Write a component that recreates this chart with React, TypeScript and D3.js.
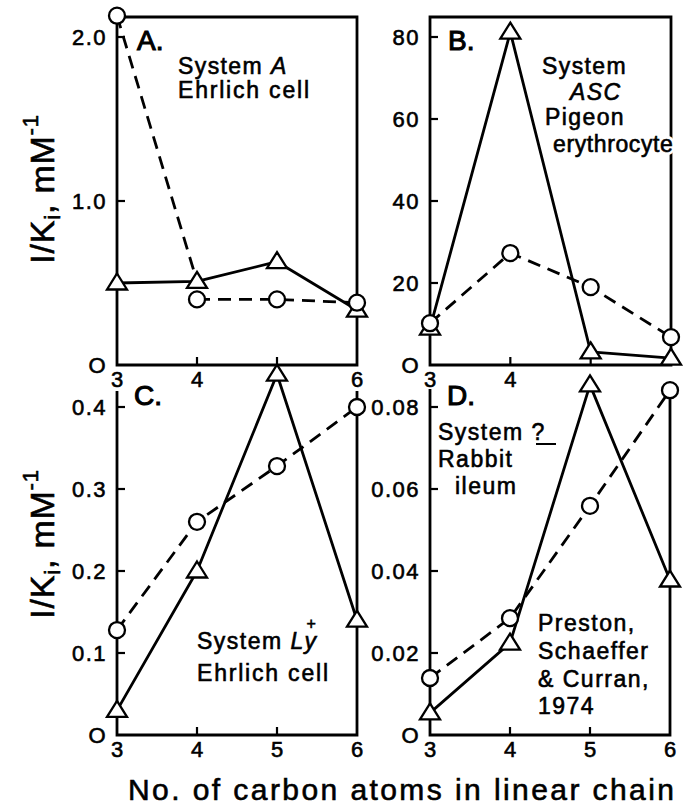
import React from "react";
import * as d3 from "d3";

// ---------- Data ----------
const carbons = [3, 4, 5, 6];

// Panel A: System A, Ehrlich cell
const aTriangles = [0.5, 0.51, 0.63, 0.335];
const aCircles = [2.13, 0.4, 0.4, 0.38];
const aTicks = [0, 1.0, 2.0];
const aTickLabels = ["O", "1.0", "2.0"];

// Panel B: System ASC, Pigeon erythrocyte
const bTriangles = [9.0, 81.2, 3.2, 1.7];
const bCircles = [10.2, 27.3, 19.0, 6.8];
const bTicks = [0, 20, 40, 60, 80];
const bTickLabels = ["O", "20", "40", "60", "80"];

// Panel C: System Ly+, Ehrlich cell
const cTriangles = [0.03, 0.2, 0.44, 0.14];
const cCircles = [0.128, 0.26, 0.328, 0.4];
const cTicks = [0, 0.1, 0.2, 0.3, 0.4];
const cTickLabels = ["O", "0.1", "0.2", "0.3", "0.4"];

// Panel D: System ?, Rabbit ileum
const dTriangles = [0.0054, 0.0224, 0.0854, 0.0378];
const dCircles = [0.0139, 0.0285, 0.0559, 0.0841];
const dTicks = [0, 0.02, 0.04, 0.06, 0.08];
const dTickLabels = ["O", "0.02", "0.04", "0.06", "0.08"];

// x tick labels visible in each panel (others are hidden by markers)
const aXLabels = [3, 4, 6];
const bXLabels = [3, 4];
const cXLabels = [3, 4, 5, 6];
const dXLabels = [3, 4, 5, 6];

const yAxisTitle = "I/K";
const xAxisTitle = "No. of carbon atoms in linear chain";

// ---------- Layout ----------
const W = 689;
const H = 807;
const FONT = "'Liberation Sans', Arial, Helvetica, sans-serif";
const SW = 2.8;
const TS = { stroke: "#000", strokeWidth: 0.6 } as const; // heavier text

type PanelCfg = {
  x0: number;
  x1: number;
  yTop: number;
  yBot: number;
  yMax: number;
  yMaxPix: number;
  tri: number[];
  circ: number[];
  ticks: number[];
  tickLabels: string[];
  xLabels: number[];
  box: boolean;
  breakA?: boolean;
};

const panels: PanelCfg[] = [
  { x0: 117, x1: 357, yTop: 17, yBot: 365, yMax: 2, yMaxPix: 37, tri: aTriangles, circ: aCircles, ticks: aTicks, tickLabels: aTickLabels, xLabels: aXLabels, box: true, breakA: true },
  { x0: 430, x1: 671, yTop: 17, yBot: 365, yMax: 80, yMaxPix: 37, tri: bTriangles, circ: bCircles, ticks: bTicks, tickLabels: bTickLabels, xLabels: bXLabels, box: true },
  { x0: 117, x1: 357, yTop: 391, yBot: 735, yMax: 0.4, yMaxPix: 407, tri: cTriangles, circ: cCircles, ticks: cTicks, tickLabels: cTickLabels, xLabels: cXLabels, box: false },
  { x0: 430, x1: 670, yTop: 389, yBot: 735, yMax: 0.08, yMaxPix: 407, tri: dTriangles, circ: dCircles, ticks: dTicks, tickLabels: dTickLabels, xLabels: dXLabels, box: false },
];

function Panel({ p }: { p: PanelCfg }) {
  const x = d3.scaleLinear().domain([3, 6]).range([p.x0, p.x1]);
  const y = d3.scaleLinear().domain([0, p.yMax]).range([p.yBot, p.yMaxPix]);
  const line = d3
    .line<[number, number]>()
    .x((d) => x(d[0]))
    .y((d) => y(d[1]));

  const triPts: [number, number][] = carbons.map((c, i) => [c, p.tri[i]]);
  const circPts: [number, number][] = carbons.map((c, i) => [c, p.circ[i]]);

  const dashedPaths: [number, number][][] = p.breakA
    ? [[circPts[0], triPts[1]], circPts.slice(1)]
    : [circPts];

  const frame = p.box
    ? `M${p.x0},${p.yTop}H${p.x1}V${p.yBot}H${p.x0}Z`
    : `M${p.x0},${p.yTop}V${p.yBot}H${p.x1}V${p.yTop}`;

  const triPath = (cx: number, cy: number) =>
    `M${cx},${cy - 9.5}L${cx + 10},${cy + 6.5}L${cx - 10},${cy + 6.5}Z`;

  return (
    <g>
      <path d={frame} fill="none" stroke="#000" strokeWidth={SW} strokeLinejoin="miter" />
      {p.ticks.map((t, i) => (
        <g key={"yt" + i}>
          {i > 0 && (
            <line x1={p.x0} x2={p.x0 + 8} y1={y(t)} y2={y(t)} stroke="#000" strokeWidth={2.2} />
          )}
          <text
            x={p.x0 - 10}
            y={y(t) + 8}
            textAnchor="end"
            fontSize={22}
            fontFamily={FONT}
            letterSpacing={1.5}
            {...TS}
          >
            {p.tickLabels[i]}
          </text>
        </g>
      ))}
      {carbons.slice(1, 3).map((c) => (
        <line key={"xt" + c} x1={x(c)} x2={x(c)} y1={p.yBot} y2={p.yBot - 8} stroke="#000" strokeWidth={2.2} />
      ))}
      {p.xLabels.map((c) => (
        <text key={"xl" + c} x={x(c)} y={p.yBot + 22} textAnchor="middle" fontSize={22} fontFamily={FONT} {...TS}>
          {c}
        </text>
      ))}
      <path d={line(triPts) || ""} fill="none" stroke="#000" strokeWidth={SW} strokeLinejoin="round" />
      {dashedPaths.map((pts, i) => (
        <path key={"dp" + i} d={line(pts) || ""} fill="none" stroke="#000" strokeWidth={SW} strokeDasharray="13 8" />
      ))}
      {triPts.map((d, i) => (
        <path key={"tr" + i} d={triPath(x(d[0]), y(d[1]))} fill="#fff" stroke="#000" strokeWidth={2.3} strokeLinejoin="miter" />
      ))}
      {circPts.map((d, i) => (
        <circle key={"ci" + i} cx={x(d[0])} cy={y(d[1])} r={8} fill="#fff" stroke="#000" strokeWidth={2.3} />
      ))}
    </g>
  );
}

function YTitle({ cx, cy }: { cx: number; cy: number }) {
  return (
    <text
      transform={`translate(${cx},${cy}) rotate(-90)`}
      textAnchor="middle"
      fontSize={34}
      fontFamily={FONT}
      letterSpacing={0.8}
      {...TS}
    >
      {yAxisTitle}
      <tspan fontSize={22} dy={6}>i</tspan>
      <tspan dy={-6}>, mM</tspan>
      <tspan fontSize={22} dy={-16}>-1</tspan>
    </text>
  );
}

const ann = { fontFamily: FONT, fontSize: 23, letterSpacing: 1.4 } as const;

function BText({ white }: { white: boolean }) {
  const st = white
    ? { stroke: "#fff", strokeWidth: 6, fill: "#fff" }
    : { ...TS, fill: "#000" };
  return (
    <g>
      <text x={542} y={74} {...ann} {...st}>System</text>
      <text x={570} y={100} {...ann} fontStyle="italic" {...st}>ASC</text>
      <text x={545} y={125} {...ann} {...st}>Pigeon</text>
      <text x={553} y={152} {...ann} letterSpacing={0.6} {...st}>erythrocyte</text>
    </g>
  );
}

export default function App() {
  return (
    <svg
      width={W}
      height={H}
      viewBox={`0 0 ${W} ${H}`}
      style={{ position: "absolute", left: 0, top: 0, background: "#fff" }}
    >
      <rect width={W} height={H} fill="#fff" />
      {panels.map((p, i) => (
        <Panel key={i} p={p} />
      ))}

      {/* Panel letters */}
      <text x={137} y={50} fontSize={28} fontFamily={FONT} stroke="#000" strokeWidth={1.1}>A.</text>
      <text x={448} y={50} fontSize={28} fontFamily={FONT} stroke="#000" strokeWidth={1.1}>B.</text>
      <text x={134} y={405} fontSize={28} fontFamily={FONT} stroke="#000" strokeWidth={1.1}>C.</text>
      <text x={447} y={405} fontSize={28} fontFamily={FONT} stroke="#000" strokeWidth={1.1}>D.</text>

      {/* Panel A annotation */}
      <text x={178} y={74} {...ann} {...TS}>
        System <tspan fontStyle="italic">A</tspan>
      </text>
      <text x={178} y={98} {...ann} letterSpacing={1.8} {...TS}>Ehrlich cell</text>

      {/* Panel B annotation (white knock-out over the frame, then text) */}
      <BText white={true} />
      <BText white={false} />

      {/* Panel C annotation */}
      <text x={197} y={649} {...ann} letterSpacing={1.5} {...TS}>
        System <tspan fontStyle="italic">Ly</tspan>
        <tspan fontSize={16} dx={-11} dy={-20}>+</tspan>
      </text>
      <text x={197} y={681} {...ann} letterSpacing={1.8} {...TS}>Ehrlich cell</text>

      {/* Panel D annotation */}
      <text x={438} y={440} {...ann} letterSpacing={1.5} {...TS}>System ?</text>
      <line x1={536} x2={556} y1={444} y2={444} stroke="#000" strokeWidth={2} />
      <text x={438} y={467} {...ann} letterSpacing={1.5} {...TS}>Rabbit</text>
      <text x={455} y={494} {...ann} letterSpacing={1.5} {...TS}>ileum</text>
      <text x={538} y={631} {...ann} letterSpacing={1.5} {...TS}>Preston,</text>
      <text x={538} y={659} {...ann} letterSpacing={1.5} {...TS}>Schaeffer</text>
      <text x={538} y={687} {...ann} letterSpacing={1.5} {...TS}>&amp; Curran,</text>
      <text x={538} y={714} {...ann} letterSpacing={1.5} {...TS}>1974</text>

      {/* Axis titles */}
      <YTitle cx={54} cy={189} />
      <YTitle cx={54} cy={544} />
      <text
        x={128}
        y={800}
        fontSize={30}
        fontFamily={FONT}
        textLength={546}
        lengthAdjust="spacing"
        {...TS}
      >
        {xAxisTitle}
      </text>
    </svg>
  );
}
